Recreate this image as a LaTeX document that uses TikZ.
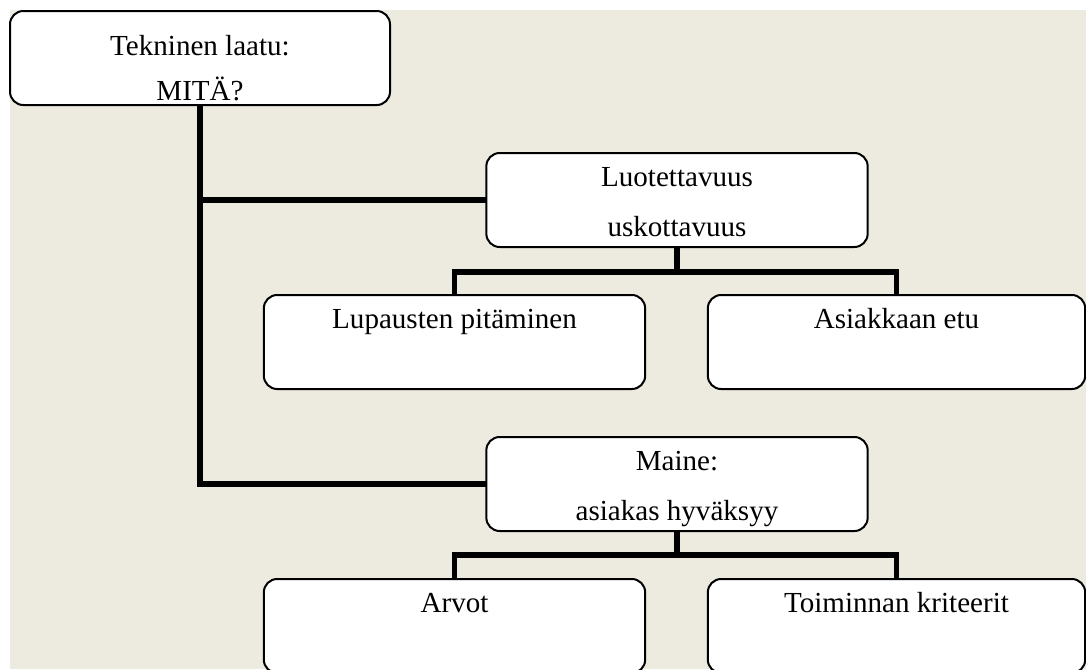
\documentclass[tikz,border=0pt]{standalone}
\usepackage{fontspec}
\setmainfont{Liberation Serif}
\usetikzlibrary{calc}
\definecolor{paper}{HTML}{EDEAE0}
\tikzset{
  box/.style={draw=black, line width=1.5pt, fill=white, rounded corners=10pt,
    inner sep=0pt, outer sep=0pt, minimum height=70.5pt},
  wide/.style={minimum width=286pt},
  narrow/.style={minimum width=283pt},
  txt/.style={anchor=base, inner sep=0pt, font=\fontsize{21.8pt}{26pt}\selectfont},
  conn/.style={draw=black, line width=4pt, line join=miter}
}
\begin{document}
\begin{tikzpicture}[x=0.75pt, y=-0.75pt]
  \useasboundingbox (0,0) rectangle (1086,669);
  \clip (0,0) rectangle (1086,669);
  \fill[white] (0,0) rectangle (1086,669);
  \fill[paper] (10,10) rectangle (1086,669);

  % junction points of the branch bars
  \coordinate (j1) at (677,272);
  \coordinate (j2) at (677,555);

  % connectors (drawn first, boxes cover their ends)
  \draw[conn] (200,58) -- (200,200) -- (677,200);
  \draw[conn] (200,58) -- (200,484) -- (677,484);

  % boxes
  \node[box, minimum width=285pt] (top) at (200,58) {};
  \node[box, wide] (luo) at (677,200) {};
  \node[box, wide] (mai) at (677,484) {};
  \node[box, wide] (lup) at (454.5,342) {};
  \node[box, narrow] (asi) at (896.5,342) {};
  \node[box, wide] (arv) at (454.5,626) {};
  \node[box, narrow] (toi) at (896.5,626) {};

  % branch bars below the middle boxes
  \draw[conn] (luo.south) -- (j1);
  \draw[conn] (lup.north) -- (lup.north |- j1) -- (asi.north |- j1) -- (asi.north);
  \draw[conn] (mai.south) -- (j2);
  \draw[conn] (arv.north) -- (arv.north |- j2) -- (toi.north |- j2) -- (toi.north);

  % labels
  \node[txt] (t1) at ($(top.north)+(0,44)$) {Tekninen laatu:};
  \node[txt] (t2) at ($(top.north)+(0,89)$) {MITÄ?};
  \node[txt] (l1) at ($(luo.north)+(0,33)$) {Luotettavuus};
  \node[txt] (l2) at ($(luo.north)+(0,83)$) {uskottavuus};
  \node[txt] (m1) at ($(mai.north)+(0,33)$) {Maine:};
  \node[txt] (m2) at ($(mai.north)+(0,83)$) {asiakas hyväksyy};
  \node[txt] (p1) at ($(lup.north)+(0,33)$) {Lupausten pitäminen};
  \node[txt] (a1) at ($(asi.north)+(0,33)$) {Asiakkaan etu};
  \node[txt] (r1) at ($(arv.north)+(0,33)$) {Arvot};
  \node[txt] (k1) at ($(toi.north)+(0,33)$) {Toiminnan kriteerit};
\end{tikzpicture}
\end{document}
